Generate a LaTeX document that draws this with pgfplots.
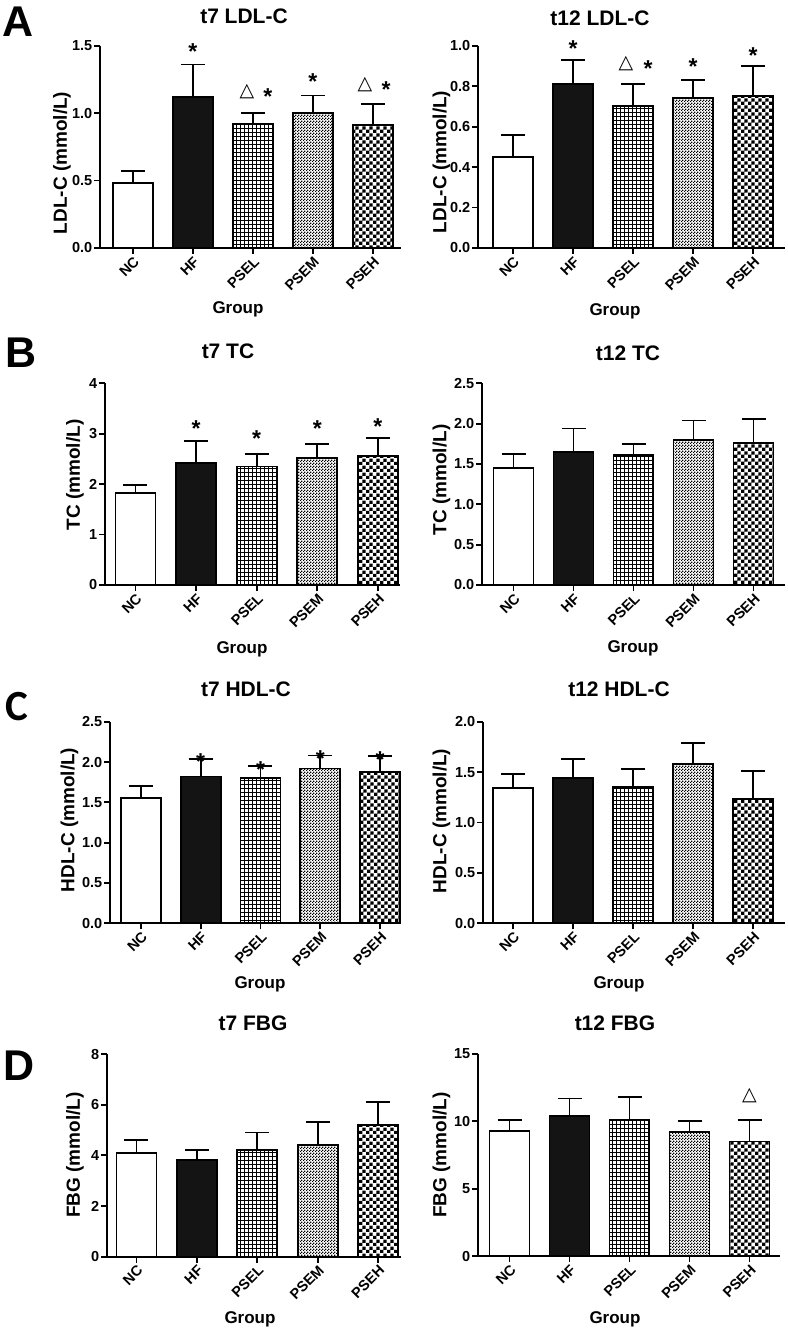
\documentclass[border=0pt]{standalone}
\usepackage{fontspec}
\setmainfont{Liberation Sans}
\newfontfamily\symfont{DejaVu Sans}
\newfontfamily\calfont{Carlito}
\usepackage{pgfplots}
\pgfplotsset{compat=1.18}
\usetikzlibrary{patterns}

% fill patterns of the three PSE groups
\pgfdeclarepatternformonly{squaregrid}{\pgfpoint{-0.5pt}{-0.5pt}}{\pgfpoint{4.5pt}{4.5pt}}{\pgfpoint{4pt}{4pt}}{%
  \pgfsetlinewidth{0.9pt}%
  \pgfpathmoveto{\pgfpoint{0pt}{0pt}}\pgfpathlineto{\pgfpoint{4pt}{0pt}}%
  \pgfpathmoveto{\pgfpoint{0pt}{0pt}}\pgfpathlineto{\pgfpoint{0pt}{4pt}}%
  \pgfusepath{stroke}}
\pgfdeclarepatternformonly{checker}{\pgfpointorigin}{\pgfpoint{7.2pt}{7.2pt}}{\pgfpoint{7.2pt}{7.2pt}}{%
  \pgfpathrectangle{\pgfpointorigin}{\pgfpoint{3.6pt}{3.6pt}}%
  \pgfpathrectangle{\pgfpoint{3.6pt}{3.6pt}}{\pgfpoint{3.6pt}{3.6pt}}%
  \pgfusepath{fill}}
\pgfdeclarepatternformonly{finechecker}{\pgfpointorigin}{\pgfpoint{3pt}{3pt}}{\pgfpoint{3pt}{3pt}}{%
  \pgfpathrectangle{\pgfpointorigin}{\pgfpoint{1.5pt}{1.5pt}}%
  \pgfpathrectangle{\pgfpoint{1.5pt}{1.5pt}}{\pgfpoint{1.5pt}{1.5pt}}%
  \pgfusepath{fill}}

\newcommand\fs[1]{\fontsize{#1}{#1}\selectfont\bfseries}

\pgfplotsset{
  panel/.style={
    scale only axis, anchor=south west, clip=false,
    ybar, bar shift=0pt, bar width=40pt, ymin=0,
    axis x line*=bottom, axis y line*=left,
    axis line style={line width=1.8pt, black},
    tick align=outside, major tick length=6pt,
    major tick style={line width=1.8pt, black},
    xtick={0,1,2,3,4}, xticklabels={NC,HF,PSEL,PSEM,PSEH},
    tick label style={font=\fs{14.5}},
    /pgf/number format/assume math mode=true,
    x tick label style={rotate=45, anchor=north east, inner sep=1pt},
    y tick label style={inner sep=1.5pt},
    scaled y ticks=false,
    error bars/y dir=plus, error bars/y explicit,
    error bars/error bar style={line width=1.8pt, black},
    error bars/error mark options={rotate=90, mark size=12pt, line width=1.8pt, black},
  },
  dec/.style={yticklabel style={/pgf/number format/.cd, fixed, fixed zerofill, precision=1}},
  int/.style={yticklabel style={/pgf/number format/.cd, fixed, precision=0}},
  nc/.style={draw=black, line width=1.8pt, fill=white},
  hf/.style={draw=black, line width=1.8pt, fill=black!92},
  psel/.style={draw=black, line width=1.8pt, pattern=squaregrid},
  psem/.style={draw=black, line width=1.8pt, pattern=finechecker},
  pseh/.style={draw=black, line width=1.8pt, pattern=checker},
}
\tikzset{
  ast/.style={font=\fs{23}, inner sep=0pt, anchor=center, yshift=-4.8pt},
  tri/.style={font=\symfont\fontsize{19}{19}\selectfont, inner sep=0pt, anchor=center},
  ttl/.style={font=\fs{21}, anchor=base, inner sep=0pt},
  grp/.style={font=\fs{17}, anchor=base, inner sep=0pt},
  ylab/.style={font=\fs{19}, rotate=90, anchor=center, inner sep=0pt},
  letter/.style={font=\fs{43}, anchor=base west, inner sep=0pt},
}

\begin{document}
\begin{tikzpicture}
\path[use as bounding box] (0pt,0pt) rectangle (787pt,-1332pt);

% ---------------- A ----------------
\begin{axis}[panel, dec, at={(100pt,-248pt)}, width=301pt, height=202.3pt,
  xmin=-0.55, xmax=4.47, ymax=1.5, ytick={0,0.5,1,1.5}]
\addplot[nc]   coordinates {(0,0.48) +- (0,0.09)};
\addplot[hf]   coordinates {(1,1.12) +- (0,0.24)};
\addplot[psel] coordinates {(2,0.92) +- (0,0.08)};
\addplot[psem] coordinates {(3,1.00) +- (0,0.13)};
\addplot[pseh] coordinates {(4,0.91) +- (0,0.16)};
\node[ast] at (axis cs:1,1.49) {*};
\node[tri] at (axis cs:1.9,1.16) {△};
\node[ast] at (axis cs:2.25,1.16) {*};
\node[ast] at (axis cs:3,1.27) {*};
\node[tri] at (axis cs:3.87,1.21) {△};
\node[ast] at (axis cs:4.22,1.21) {*};
\end{axis}

\begin{axis}[panel, dec, at={(478pt,-248pt)}, width=307pt, height=202.3pt,
  xmin=-0.583, xmax=4.533, ymax=1.0, ytick={0,0.2,0.4,0.6,0.8,1.0}]
\addplot[nc]   coordinates {(0,0.45) +- (0,0.11)};
\addplot[hf]   coordinates {(1,0.81) +- (0,0.12)};
\addplot[psel] coordinates {(2,0.70) +- (0,0.11)};
\addplot[psem] coordinates {(3,0.74) +- (0,0.09)};
\addplot[pseh] coordinates {(4,0.75) +- (0,0.15)};
\node[ast] at (axis cs:1,1.01) {*};
\node[tri] at (axis cs:1.88,0.91) {△};
\node[ast] at (axis cs:2.25,0.91) {*};
\node[ast] at (axis cs:3,0.92) {*};
\node[ast] at (axis cs:4,0.975) {*};
\end{axis}

% ---------------- B ----------------
\begin{axis}[panel, int, at={(105pt,-585pt)}, width=295pt, height=201.7pt,
  xmin=-0.503, xmax=4.365, ymax=4, ytick={0,1,2,3,4}]
\addplot[nc]   coordinates {(0,1.83) +- (0,0.16)};
\addplot[hf]   coordinates {(1,2.42) +- (0,0.43)};
\addplot[psel] coordinates {(2,2.35) +- (0,0.25)};
\addplot[psem] coordinates {(3,2.52) +- (0,0.27)};
\addplot[pseh] coordinates {(4,2.56) +- (0,0.36)};
\node[ast] at (axis cs:1,3.19) {*};
\node[ast] at (axis cs:2,3.0) {*};
\node[ast] at (axis cs:3,3.19) {*};
\node[ast] at (axis cs:4,3.24) {*};
\end{axis}

\begin{axis}[panel, dec, at={(482pt,-585pt)}, width=303pt, height=201.7pt,
  xmin=-0.525, xmax=4.525, ymax=2.5, ytick={0,0.5,1,1.5,2,2.5}]
\addplot[nc]   coordinates {(0,1.45) +- (0,0.17)};
\addplot[hf]   coordinates {(1,1.65) +- (0,0.29)};
\addplot[psel] coordinates {(2,1.61) +- (0,0.14)};
\addplot[psem] coordinates {(3,1.80) +- (0,0.24)};
\addplot[pseh] coordinates {(4,1.76) +- (0,0.30)};
\end{axis}

% ---------------- C ----------------
\begin{axis}[panel, dec, at={(110pt,-923.3pt)}, width=291pt, height=201.6pt,
  xmin=-0.517, xmax=4.35, ymax=2.5, ytick={0,0.5,1,1.5,2,2.5}]
\addplot[nc]   coordinates {(0,1.55) +- (0,0.15)};
\addplot[hf]   coordinates {(1,1.82) +- (0,0.22)};
\addplot[psel] coordinates {(2,1.80) +- (0,0.15)};
\addplot[psem] coordinates {(3,1.92) +- (0,0.16)};
\addplot[pseh] coordinates {(4,1.88) +- (0,0.19)};
\node[ast] at (axis cs:1,2.06) {*};
\node[ast] at (axis cs:2,1.97) {*};
\node[ast] at (axis cs:3,2.10) {*};
\node[ast] at (axis cs:4,2.09) {*};
\end{axis}

\begin{axis}[panel, dec, at={(483pt,-923.3pt)}, width=302pt, height=201.6pt,
  xmin=-0.5, xmax=4.53, ymax=2.0, ytick={0,0.5,1,1.5,2}]
\addplot[nc]   coordinates {(0,1.34) +- (0,0.14)};
\addplot[hf]   coordinates {(1,1.44) +- (0,0.19)};
\addplot[psel] coordinates {(2,1.35) +- (0,0.18)};
\addplot[psem] coordinates {(3,1.58) +- (0,0.21)};
\addplot[pseh] coordinates {(4,1.23) +- (0,0.28)};
\end{axis}

% ---------------- D ----------------
\begin{axis}[panel, int, at={(107pt,-1256.6pt)}, width=294pt, height=202.6pt,
  xmin=-0.488, xmax=4.38, ymax=8, ytick={0,2,4,6,8}]
\addplot[nc]   coordinates {(0,4.1) +- (0,0.5)};
\addplot[hf]   coordinates {(1,3.8) +- (0,0.4)};
\addplot[psel] coordinates {(2,4.2) +- (0,0.7)};
\addplot[psem] coordinates {(3,4.4) +- (0,0.9)};
\addplot[pseh] coordinates {(4,5.2) +- (0,0.9)};
\end{axis}

\begin{axis}[panel, int, at={(478pt,-1256pt)}, width=302pt, height=202pt,
  xmin=-0.525, xmax=4.508, ymax=15, ytick={0,5,10,15}]
\addplot[nc]   coordinates {(0,9.3) +- (0,0.8)};
\addplot[hf]   coordinates {(1,10.4) +- (0,1.3)};
\addplot[psel] coordinates {(2,10.1) +- (0,1.7)};
\addplot[psem] coordinates {(3,9.2) +- (0,0.8)};
\addplot[pseh] coordinates {(4,8.5) +- (0,1.6)};
\node[tri] at (axis cs:4,11.9) {△};
\end{axis}

% titles, axis labels and panel letters
\node[ttl] at (244pt,-24pt) {t7 LDL-C};
\node[ttl] at (600pt,-26pt) {t12 LDL-C};
\node[ttl] at (228pt,-358pt) {t7 TC};
\node[ttl] at (628pt,-360pt) {t12 TC};
\node[ttl] at (246pt,-696.7pt) {t7 HDL-C};
\node[ttl] at (619pt,-696.7pt) {t12 HDL-C};
\node[ttl] at (253pt,-1030pt) {t7 FBG};
\node[ttl] at (615pt,-1030pt) {t12 FBG};

\node[grp] at (238pt,-313pt) {Group};
\node[grp] at (615pt,-315pt) {Group};
\node[grp] at (242pt,-653pt) {Group};
\node[grp] at (633pt,-652pt) {Group};
\node[grp] at (260pt,-988pt) {Group};
\node[grp] at (619pt,-988pt) {Group};
\node[grp] at (250pt,-1323pt) {Group};
\node[grp] at (615pt,-1323pt) {Group};

\node[ylab] at (62pt,-163pt) {LDL-C (mmol/L)};
\node[ylab] at (441.5pt,-162pt) {LDL-C (mmol/L)};
\node[ylab] at (75pt,-475pt) {TC (mmol/L)};
\node[ylab] at (441.5pt,-480pt) {TC (mmol/L)};
\node[ylab] at (69.5pt,-820pt) {HDL-C (mmol/L)};
\node[ylab] at (441.5pt,-821pt) {HDL-C (mmol/L)};
\node[ylab] at (75pt,-1155pt) {FBG (mmol/L)};
\node[ylab] at (441.5pt,-1155pt) {FBG (mmol/L)};

\node[letter] at (2pt,-37pt) {A};
\node[letter] at (5pt,-367pt) {B};
\node[letter, font=\calfont\fs{43}] at (5pt,-720pt) {C};
\node[letter] at (3pt,-1080pt) {D};
\end{tikzpicture}
\end{document}
